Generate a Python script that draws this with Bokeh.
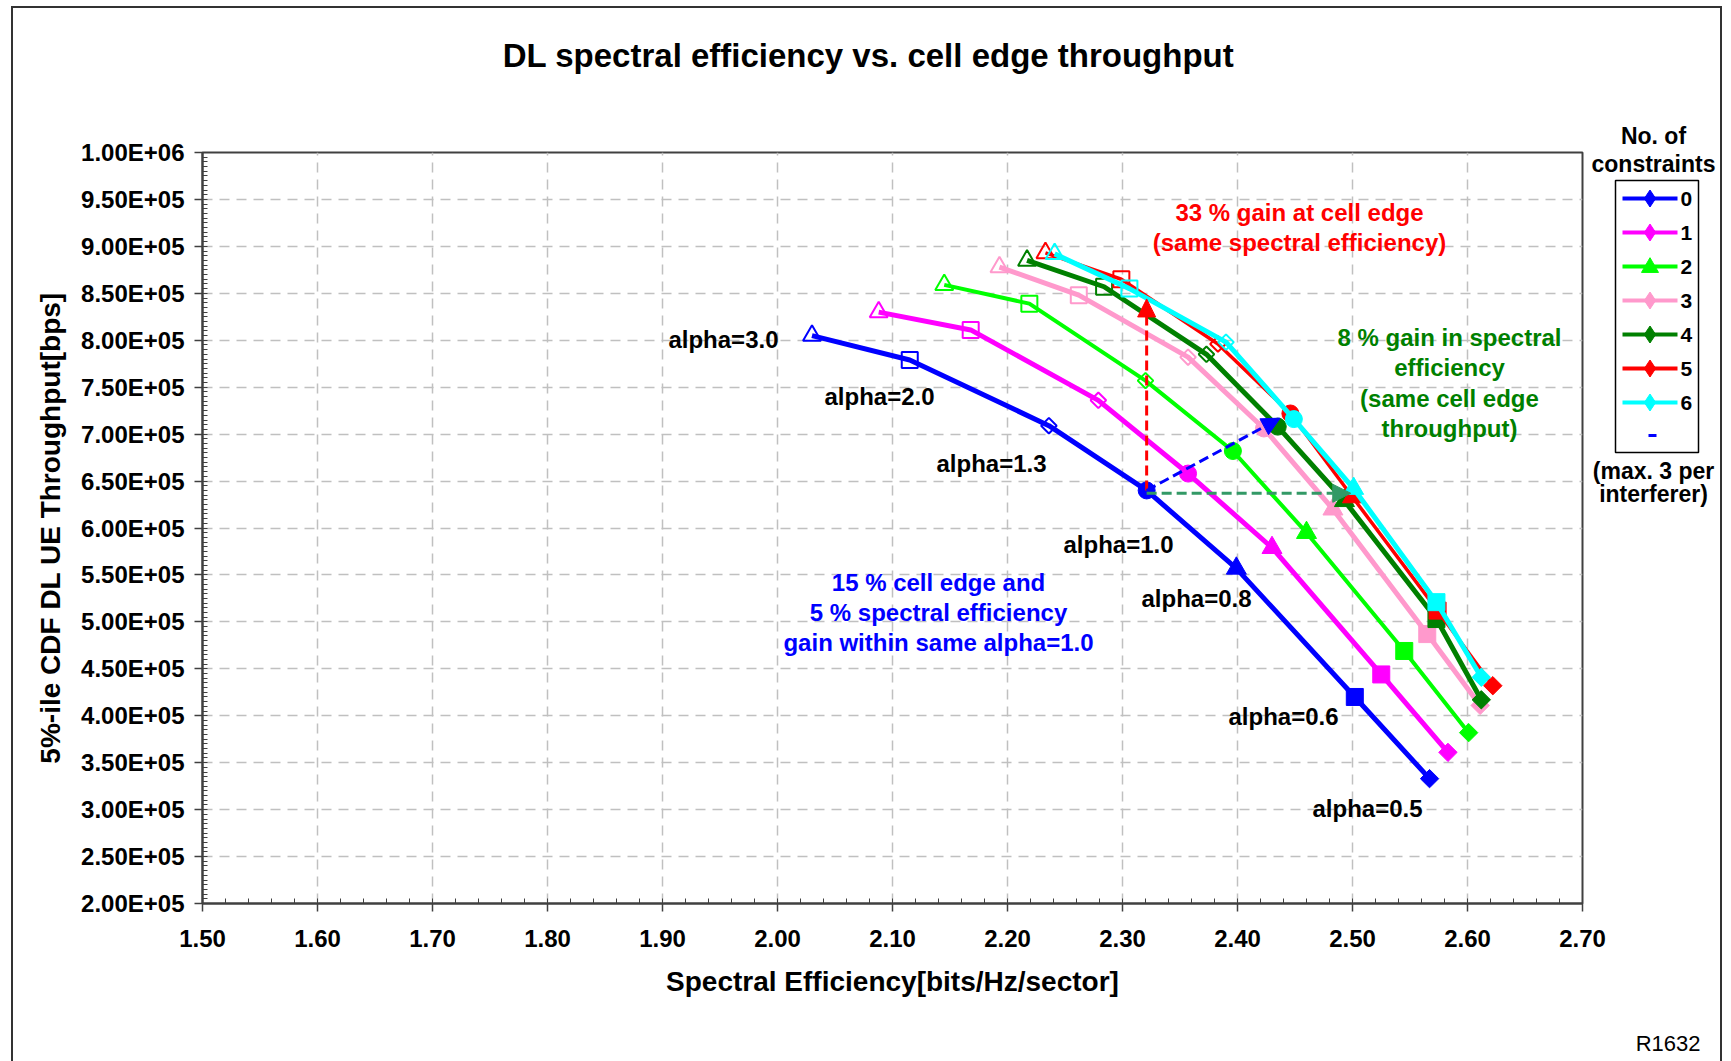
import math
from bokeh.plotting import figure
from bokeh.layouts import row, column
from bokeh.models import (Range1d, FixedTicker, Label, Arrow, NormalHead,
                          ColumnDataSource, InlineStyleSheet)
from bokeh.core.properties import value
from bokeh.embed import file_html
from bokeh.resources import INLINE

# ---------------- data ----------------
alpha_labels = ["3.0", "2.0", "1.3", "1.0", "0.8", "0.6", "0.5"]
constraint_labels = ["0", "1", "2", "3", "4", "5", "6"]

se_0 = [2.030, 2.115, 2.236, 2.321, 2.399, 2.502, 2.567]
tp_0 = [8.05e5, 7.79e5, 7.09e5, 6.40e5, 5.57e5, 4.20e5, 3.33e5]
se_1 = [2.088, 2.168, 2.279, 2.357, 2.430, 2.525, 2.583]
tp_1 = [8.30e5, 8.11e5, 7.36e5, 6.58e5, 5.79e5, 4.44e5, 3.61e5]
se_2 = [2.145, 2.219, 2.320, 2.396, 2.460, 2.545, 2.601]
tp_2 = [8.59e5, 8.39e5, 7.57e5, 6.82e5, 5.95e5, 4.69e5, 3.82e5]
se_3 = [2.193, 2.262, 2.357, 2.423, 2.483, 2.565, 2.611]
tp_3 = [8.78e5, 8.48e5, 7.82e5, 7.06e5, 6.20e5, 4.87e5, 4.11e5]
se_4 = [2.217, 2.284, 2.373, 2.435, 2.493, 2.573, 2.612]
tp_4 = [8.85e5, 8.57e5, 7.85e5, 7.08e5, 6.29e5, 5.03e5, 4.17e5]
se_5 = [2.233, 2.299, 2.383, 2.446, 2.500, 2.574, 2.622]
tp_5 = [8.93e5, 8.65e5, 7.96e5, 7.22e5, 6.33e5, 5.12e5, 4.32e5]
se_6 = [2.241, 2.306, 2.390, 2.449, 2.501, 2.573, 2.612]
tp_6 = [8.92e5, 8.55e5, 7.98e5, 7.16e5, 6.42e5, 5.21e5, 4.41e5]

# arrow end points (all start at constraint 0, alpha=1.0)
arrow_red_end = (2.321, 8.44e5)
arrow_blue_end = (2.437, 7.17e5)
arrow_green_end = (2.4985, 6.37e5)

x_tick_labels = ["1.50", "1.60", "1.70", "1.80", "1.90", "2.00", "2.10", "2.20",
                 "2.30", "2.40", "2.50", "2.60", "2.70"]
y_tick_labels = ["2.00E+05", "2.50E+05", "3.00E+05", "3.50E+05", "4.00E+05",
                 "4.50E+05", "5.00E+05", "5.50E+05", "6.00E+05", "6.50E+05",
                 "7.00E+05", "7.50E+05", "8.00E+05", "8.50E+05", "9.00E+05",
                 "9.50E+05", "1.00E+06"]

series_se = [se_0, se_1, se_2, se_3, se_4, se_5, se_6]
series_tp = [tp_0, tp_1, tp_2, tp_3, tp_4, tp_5, tp_6]

# ---------------- styles ----------------
colors = ["#0000FF", "#FF00FF", "#00FF00", "#FF99CC", "#008000", "#FF0000", "#00FFFF"]
line_widths = [5, 5, 4, 5, 5, 3.5, 5]
FONT = "Liberation Sans"

mk_shape = ["triangle", "square", "square", "circle", "triangle", "square", "square"]
mk_angle = [0, 0, math.pi / 4, 0, 0, 0, math.pi / 4]
mk_size = [18, 16, 11, 17, 20, 17, 13]
mk_fill = [0, 0, 0, 1, 1, 1, 1]
mk_lw = [2, 2, 2, 1, 1, 1, 1]

W, H = 1731, 1061
TOP_H = 100                      # title strip height
MAIN_W = 1620                    # main chart canvas width
LG_X = 1590                      # legend panel starts here (overlaps main canvas)
FL, FR, FT, FB = 202, 1582, 152, 903   # frame edges (page px)

x_ticks = [float(s) for s in x_tick_labels]
y_ticks = [float(s) for s in y_tick_labels]
X0, X1 = x_ticks[0], x_ticks[-1]
Y0, Y1 = y_ticks[0], y_ticks[-1]


def dx(px):
    return X0 + (px - FL) * (X1 - X0) / (FR - FL)


def dy(py):
    return Y0 + (FB - py) * (Y1 - Y0) / (FB - FT)


def blank(fig, transparent=False):
    fig.frame_align = False
    fig.axis.visible = False
    fig.grid.visible = False
    fig.outline_line_color = None
    if transparent:
        fig.background_fill_color = None
        fig.border_fill_color = None
    else:
        fig.background_fill_color = "white"
        fig.border_fill_color = "white"


# ---------------- title strip ----------------
top = figure(width=W, height=TOP_H, x_range=Range1d(0, W), y_range=Range1d(TOP_H, 0),
             output_backend="svg", toolbar_location=None,
             min_border_left=0, min_border_right=0, min_border_top=0, min_border_bottom=0)
blank(top)
top.text(x=[868], y=[55], text=["DL spectral efficiency vs. cell edge throughput"],
         text_font=value(FONT), text_font_style="bold", text_font_size="33px",
         text_align="center", text_baseline="middle", text_color="black")

# ---------------- main chart ----------------
p = figure(width=MAIN_W, height=H - TOP_H, x_range=Range1d(X0, X1), y_range=Range1d(Y0, Y1),
           output_backend="svg", toolbar_location=None,
           min_border_left=FL, min_border_right=MAIN_W - FR,
           min_border_top=FT - TOP_H, min_border_bottom=H - FB)
p.frame_align = False
p.background_fill_color = "white"
p.border_fill_color = "white"
p.outline_line_color = "#404040"
p.outline_line_width = 2

x_minor = [X0 + 0.02 * i for i in range(int(round((X1 - X0) / 0.02)) + 1)]
y_minor = [Y0 + 5000 * i for i in range(int(round((Y1 - Y0) / 5000)) + 1)]
p.xaxis.ticker = FixedTicker(ticks=x_ticks, minor_ticks=x_minor)
p.yaxis.ticker = FixedTicker(ticks=y_ticks, minor_ticks=y_minor)
p.xaxis.major_label_overrides = dict(zip(x_ticks, x_tick_labels))
p.yaxis.major_label_overrides = dict(zip(y_ticks, y_tick_labels))

for ax in (p.xaxis, p.yaxis):
    ax.axis_line_color = "#404040"
    ax.axis_line_width = 2
    ax.major_tick_line_color = "#404040"
    ax.major_tick_line_width = 1.5
    ax.minor_tick_line_color = "#404040"
    ax.major_tick_in = 0
    ax.major_tick_out = 8
    ax.minor_tick_in = 5
    ax.minor_tick_out = 0
    ax.major_label_text_font = FONT
    ax.major_label_text_font_style = "bold"
    ax.major_label_text_font_size = "24px"
    ax.major_label_text_color = "black"
    ax.axis_label_text_font = FONT
    ax.axis_label_text_font_style = "bold"
    ax.axis_label_text_font_size = "28px"
    ax.axis_label_text_color = "black"

p.xaxis.major_label_standoff = 18
p.yaxis.major_label_standoff = 10
p.xaxis.axis_label = "Spectral Efficiency[bits/Hz/sector]"
p.yaxis.axis_label = "5%-ile CDF DL UE Throughput[bps]"
p.xaxis.axis_label_standoff = 16
p.yaxis.axis_label_standoff = 12

for g in (p.xgrid, p.ygrid):
    g.grid_line_color = "#C0C0C0"
    g.grid_line_width = 1.5
    g.grid_line_dash = "10 7"

for i in range(7):
    src = ColumnDataSource(dict(x=series_se[i], y=series_tp[i], marker=mk_shape,
                                angle=mk_angle, size=mk_size, fa=mk_fill, lw=mk_lw))
    p.line("x", "y", source=src, line_color=colors[i], line_width=line_widths[i])
    p.scatter("x", "y", source=src, marker="marker", angle="angle", size="size",
              fill_color=colors[i], fill_alpha="fa", line_color=colors[i],
              line_width="lw")

sx0, sy0 = se_0[3], tp_0[3]
for (ex, ey), col in ((arrow_red_end, "#FF0000"), (arrow_blue_end, "#0000FF"),
                      (arrow_green_end, "#339966")):
    ys = sy0 if col != "#339966" else ey
    p.add_layout(Arrow(x_start=sx0, y_start=ys, x_end=ex, y_end=ey,
                       line_color=col, line_width=3, line_dash="10 5",
                       end=NormalHead(size=18, fill_color=col, line_color=col,
                                      line_width=1)))


def txt(x_px, y_px, s, color="black", size="24px", align="center", style="bold"):
    p.add_layout(Label(x=dx(x_px), y=dy(y_px), text=s, text_color=color,
                       text_font=FONT, text_font_size=size, text_font_style=style,
                       text_align=align, text_baseline="middle"))


alpha_pos = [(778, 339, "right"), (879, 396, "center"), (991, 463, "center"),
             (1118, 544, "center"), (1196, 598, "center"), (1283, 716, "center"),
             (1367, 808, "center")]
for lab, (xp, yp, al) in zip(alpha_labels, alpha_pos):
    txt(xp, yp, "alpha=" + lab, align=al)

txt(1299, 212, "33 % gain at cell edge", color="#FF0000")
txt(1299, 242, "(same spectral efficiency)", color="#FF0000")
for yp, s in zip((337, 367, 398, 428),
                 ("8 % gain in spectral", "efficiency", "(same cell edge", "throughput)")):
    txt(1449, yp, s, color="#008000")
for yp, s in zip((582, 612, 642),
                 ("15 % cell edge and", "5 % spectral efficiency", "gain within same alpha=1.0")):
    txt(938, yp, s, color="#0000FF")

# ---------------- legend panel (page pixel coordinates, transparent) ----------------
lg = figure(width=W - LG_X, height=H - TOP_H, x_range=Range1d(LG_X, W),
            y_range=Range1d(H, TOP_H), output_backend="svg", toolbar_location=None,
            min_border_left=0, min_border_right=0, min_border_top=0, min_border_bottom=0)
blank(lg, transparent=True)
lg.margin = (0, 0, 0, LG_X - MAIN_W)

LX0, LX1 = 1622, 1677
LY = [198 + 34 * i for i in range(7)]
lg.quad(left=[1615], right=[1698], top=[180], bottom=[452],
        fill_color="white", line_color="black", line_width=1.5)
for i in range(7):
    lg.segment(x0=[LX0], y0=[LY[i]], x1=[LX1], y1=[LY[i]],
               line_color=colors[i], line_width=4)
    lg.scatter(x=[(LX0 + LX1) / 2], y=[LY[i] + (1 if i == 2 else 0)],
               marker="triangle" if i == 2 else "diamond",
               size=17, fill_color=colors[i], line_color=colors[i])
lg.text(x=[1680] * 7, y=LY, text=constraint_labels, text_font=value(FONT),
        text_font_style="bold", text_font_size="21px", text_baseline="middle",
        text_align="left", text_color="black")
lg.segment(x0=[1648], y0=[435], x1=[1656], y1=[435], line_color="#0000FF", line_width=3)
lg.text(x=[1653] * 4, y=[135, 163, 470, 493],
        text=["No. of", "constraints", "(max. 3 per", "interferer)"],
        text_font=value(FONT), text_font_style="bold", text_font_size="23px",
        text_baseline="middle", text_align="center", text_color="black")
lg.text(x=[1700], y=[1043], text=["R1632"], text_font=value(FONT),
        text_font_size="22px", text_baseline="middle", text_align="right",
        text_color="black")

layout = column(top, row(p, lg, spacing=0), spacing=0)
layout.stylesheets = [InlineStyleSheet(css=(
    ":host{position:relative;}"
    ":host::after{content:'';position:absolute;left:11px;top:6px;width:1711px;"
    "height:1055px;border:2px solid #333;border-bottom:none;box-sizing:border-box;"
    "pointer-events:none;z-index:10;}"))]

open("out.html", "w").write(file_html(layout, INLINE))
